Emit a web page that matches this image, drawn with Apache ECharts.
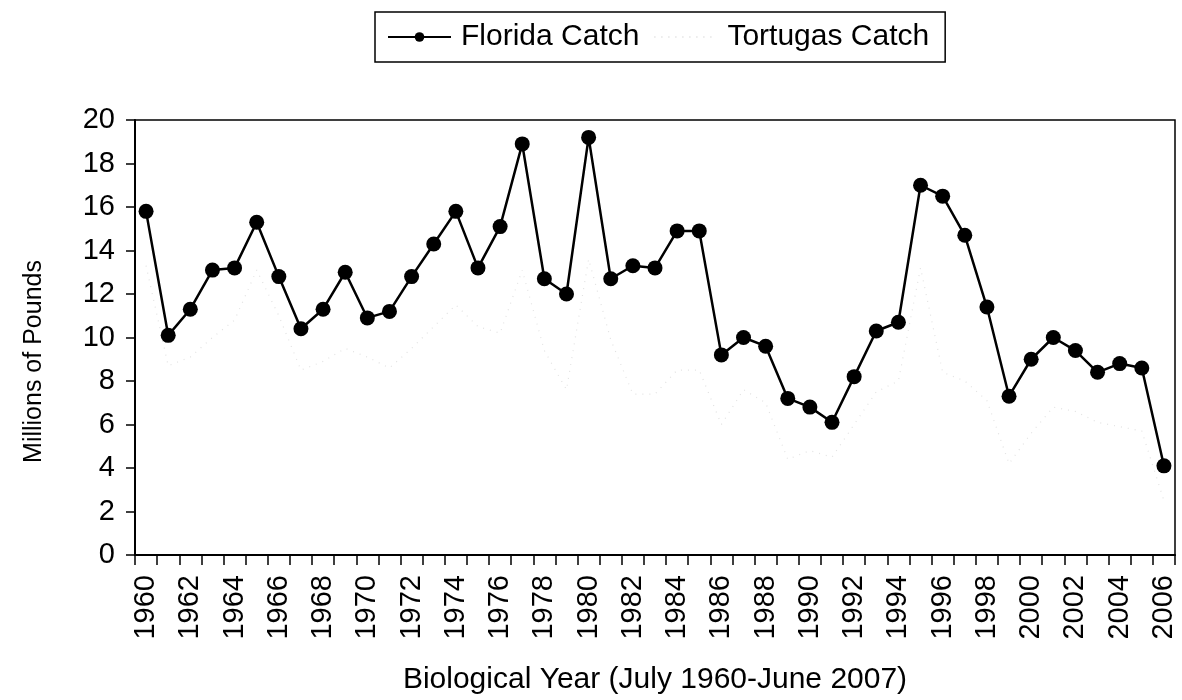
<!DOCTYPE html>
<html>
<head>
<meta charset="utf-8">
<script src="https://cdn.jsdelivr.net/npm/echarts@6/dist/echarts.min.js"></script>
<style>html,body{margin:0;padding:0;background:#fff}#c{width:1182px;height:700px}</style>
</head>
<body>
<div id="c"></div>
<script>
const years = [];
for (let y = 1960; y <= 2006; y++) years.push(String(y));
const floridaCatch = [15.8,10.1,11.3,13.1,13.2,15.3,12.8,10.4,11.3,13.0,10.9,11.2,12.8,14.3,15.8,13.2,15.1,18.9,12.7,12.0,19.2,12.7,13.3,13.2,14.9,14.9,9.2,10.0,9.6,7.2,6.8,6.1,8.2,10.3,10.7,17.0,16.5,14.7,11.4,7.3,9.0,10.0,9.4,8.4,8.8,8.6,4.1];
const tortugasCatch = [13.3,8.7,9.1,10.0,10.8,13.1,11.0,8.5,8.9,9.5,9.1,8.6,9.5,10.5,11.5,10.5,10.2,13.1,9.4,7.6,13.6,9.9,7.4,7.4,8.5,8.5,6.0,7.6,7.0,4.4,4.8,4.5,6.0,7.5,8.0,13.2,8.4,8.0,7.1,4.2,5.6,6.8,6.6,6.1,5.9,5.7,2.5];
const yTicks = {min: 0, max: 20, interval: 2};

const chart = echarts.init(document.getElementById('c'), null, {renderer: 'canvas'});
const font = '"Liberation Sans", Arial, sans-serif';
chart.setOption({
  animation: false,
  backgroundColor: '#fff',
  textStyle: {fontFamily: font, color: '#000'},
  legend: {
    left: 375, top: 12,
    padding: [10, 16, 10, 12],
    borderColor: '#000', borderWidth: 1.5,
    itemGap: 14, itemWidth: 63, itemHeight: 12,
    textStyle: {fontSize: 30, fontFamily: font, color: '#000', padding: [0, 0, 0, 5]},
    data: [
      {name: 'Florida Catch'},
      {name: 'Tortugas Catch', itemStyle: {opacity: 0}}
    ]
  },
  grid: {left: 135, right: 7, top: 120, bottom: 144, show: true, borderColor: '#000', borderWidth: 1.5, containLabel: false},
  xAxis: {
    type: 'category', data: years, boundaryGap: true,
    name: 'Biological Year (July 1960-June 2007)', nameLocation: 'middle', nameGap: 110,
    nameTextStyle: {fontSize: 30, color: '#000', fontFamily: font},
    axisLine: {lineStyle: {color: '#000', width: 2}},
    axisTick: {show: true, interval: 0, length: 10, lineStyle: {color: '#000', width: 1.5}},
    axisLabel: {interval: 1, rotate: 90, fontSize: 29, color: '#000', margin: 20, fontFamily: font}
  },
  yAxis: {
    type: 'value', min: yTicks.min, max: yTicks.max, interval: yTicks.interval,
    name: 'Millions of Pounds', nameLocation: 'middle', nameGap: 88, nameRotate: 90,
    nameTextStyle: {fontSize: 25, color: '#000', fontFamily: font, padding: [0, 48, 0, 0]},
    axisLine: {show: true, lineStyle: {color: '#000', width: 2}},
    axisTick: {show: true, length: 9, lineStyle: {color: '#000', width: 1.5}},
    axisLabel: {fontSize: 29, color: '#000', margin: 20, fontFamily: font},
    splitLine: {show: false}
  },
  series: [
    {
      name: 'Tortugas Catch', type: 'line', data: tortugasCatch,
      symbol: 'none', z: 1,
      lineStyle: {color: '#e2e2e2', width: 1.2, type: [1, 6]},
      itemStyle: {color: '#e2e2e2'}
    },
    {
      name: 'Florida Catch', type: 'line', data: floridaCatch,
      symbol: 'circle', symbolSize: 15, showSymbol: true, showAllSymbol: true, z: 3,
      lineStyle: {color: '#000', width: 2.5},
      itemStyle: {color: '#000'}
    }
  ]
});
</script>
</body>
</html>
